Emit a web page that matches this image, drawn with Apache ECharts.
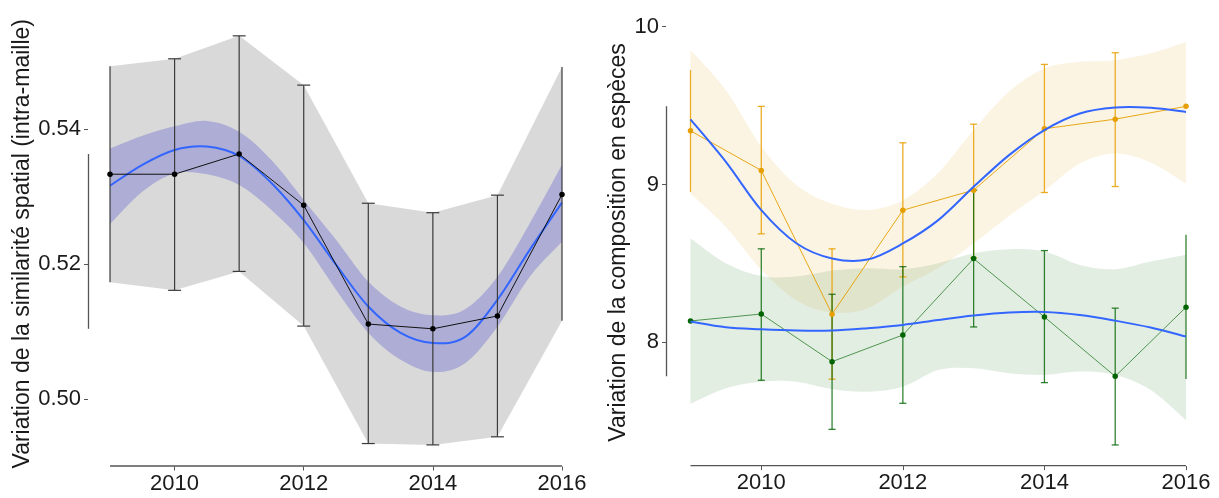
<!DOCTYPE html>
<html>
<head>
<meta charset="utf-8">
<script src="https://cdn.jsdelivr.net/npm/echarts@6/dist/echarts.min.js"></script>
<style>
html,body{margin:0;padding:0;background:#fff;}
#chart{width:1219px;height:498px;}
</style>
</head>
<body>
<div id="chart"></div>
<script>
// ---------- DATA ----------
const years = [2009, 2010, 2011, 2012, 2013, 2014, 2015, 2016];
const xTicks = [2010, 2012, 2014, 2016];

// Left panel: similarity
const simMean  = [0.5333, 0.5333, 0.5363, 0.5287, 0.5111, 0.5104, 0.5123, 0.5303];
const simUpper = [0.5493, 0.5504, 0.5538, 0.5465, 0.5290, 0.5276, 0.5302, 0.5492];
const simLower = [0.5173, 0.5161, 0.5189, 0.5108, 0.4934, 0.4932, 0.4944, 0.5116];
const simTicks = [0.50, 0.52, 0.54];

const fitYears = [2009, 2009.5, 2010, 2010.5, 2011, 2011.5, 2012, 2012.5, 2013, 2013.5, 2014, 2014.5, 2015, 2015.5, 2016];
const simFit      = [0.5316, 0.5347, 0.5369, 0.5374, 0.5360, 0.5320, 0.5265, 0.5199, 0.5137, 0.5098, 0.5083, 0.5092, 0.5147, 0.5221, 0.5291];
const simFitUpper = [0.5371, 0.5390, 0.5404, 0.5412, 0.5396, 0.5354, 0.5295, 0.5236, 0.5174, 0.5137, 0.5124, 0.5133, 0.5181, 0.5260, 0.5347];
const simFitLower = [0.5259, 0.5307, 0.5334, 0.5333, 0.5317, 0.5280, 0.5231, 0.5162, 0.5098, 0.5058, 0.5040, 0.5053, 0.5107, 0.5181, 0.5233];

// Right panel: species composition
const orangeMean  = [9.340, 9.089, 8.178, 8.837, 8.964, 9.353, 9.414, 9.495];
const orangeUpper = [9.725, 9.495, 8.592, 9.264, 9.382, 9.761, 9.835, null];
const orangeLower = [8.953, 8.687, 7.766, 8.414, 8.535, 8.949, 8.987, null];
const greenMean   = [8.135, 8.179, 7.877, 8.046, 8.530, 8.160, 7.784, 8.222];
const greenUpper  = [null, 8.592, 8.304, 8.479, 8.964, 8.581, 8.216, 8.682];
const greenLower  = [null, 7.759, 7.448, 7.613, 8.097, 7.744, 7.349, 7.767];
const compTicks = [8, 9, 10];

const orangeFit      = [9.412, 9.143, 8.837, 8.626, 8.531, 8.524, 8.626, 8.774, 8.985, 9.186, 9.345, 9.450, 9.488, 9.486, 9.460];
const orangeFitUpper = [9.852, 9.598, 9.240, 8.995, 8.877, 8.838, 8.900, 9.075, 9.345, 9.590, 9.735, 9.777, 9.788, 9.831, 9.905];
const orangeFitLower = [8.943, 8.731, 8.460, 8.265, 8.188, 8.214, 8.353, 8.470, 8.626, 8.800, 8.960, 9.133, 9.197, 9.140, 9.006];
const greenFit      = [8.131, 8.095, 8.082, 8.074, 8.074, 8.089, 8.110, 8.141, 8.169, 8.188, 8.192, 8.173, 8.137, 8.093, 8.036];
const greenFitUpper = [8.659, 8.501, 8.420, 8.416, 8.454, 8.469, 8.463, 8.501, 8.564, 8.590, 8.575, 8.490, 8.463, 8.511, 8.554];
const greenFitLower = [7.609, 7.708, 7.750, 7.750, 7.702, 7.687, 7.718, 7.824, 7.835, 7.803, 7.793, 7.814, 7.793, 7.698, 7.507];

const leftTitle = 'Variation de la similarité spatial (intra-maille)';
const rightTitle = 'Variation de la composition en espèces';

// ---------- HELPERS ----------
const FONT = "'Liberation Sans', Arial, sans-serif";
const TXT = '#1a1a1a';

function smoothSeg(pts, start) {
  let d = (start ? 'M' : 'L') + pts[0][0] + ',' + pts[0][1];
  for (let i = 0; i < pts.length - 1; i++) {
    const p0 = pts[i - 1] || pts[i], p1 = pts[i], p2 = pts[i + 1], p3 = pts[i + 2] || pts[i + 1];
    const c1 = [p1[0] + (p2[0] - p0[0]) / 6, p1[1] + (p2[1] - p0[1]) / 6];
    const c2 = [p2[0] - (p3[0] - p1[0]) / 6, p2[1] - (p3[1] - p1[1]) / 6];
    d += ' C' + c1[0] + ',' + c1[1] + ' ' + c2[0] + ',' + c2[1] + ' ' + p2[0] + ',' + p2[1];
  }
  return d;
}

function ribbonSeries(ax, xs, lo, hi, color, z) {
  return {
    type: 'custom', xAxisIndex: ax, yAxisIndex: ax, z: z, silent: true,
    data: xs.map((x, i) => [x, lo[i], hi[i]]),
    encode: { x: 0, y: [1, 2] },
    renderItem: function (params, api) {
      if (params.dataIndex !== 0) return null;
      const pts = [];
      xs.forEach((x, i) => pts.push(api.coord([x, hi[i]])));
      for (let i = xs.length - 1; i >= 0; i--) pts.push(api.coord([xs[i], lo[i]]));
      return { type: 'polygon', shape: { points: pts }, style: { fill: color } };
    }
  };
}

function bandSeries(ax, xs, lo, hi, color, z) {
  return {
    type: 'custom', xAxisIndex: ax, yAxisIndex: ax, z: z, silent: true,
    data: xs.map((x, i) => [x, lo[i], hi[i]]),
    encode: { x: 0, y: [1, 2] },
    renderItem: function (params, api) {
      if (params.dataIndex !== 0) return null;
      const up = xs.map((x, i) => api.coord([x, hi[i]]));
      const dn = xs.map((x, i) => api.coord([x, lo[i]])).reverse();
      const d = smoothSeg(up, true) + ' ' + smoothSeg(dn, false) + ' Z';
      return { type: 'path', shape: { pathData: d }, style: { fill: color } };
    }
  };
}

function curveSeries(ax, xs, ys, color, z) {
  return {
    type: 'custom', xAxisIndex: ax, yAxisIndex: ax, z: z, silent: true,
    data: xs.map((x, i) => [x, ys[i]]),
    encode: { x: 0, y: 1 },
    renderItem: function (params, api) {
      if (params.dataIndex !== 0) return null;
      const pts = xs.map((x, i) => api.coord([x, ys[i]]));
      return { type: 'path', shape: { pathData: smoothSeg(pts, true) },
               style: { fill: 'none', stroke: color, lineWidth: 2 } };
    }
  };
}

function errorSeries(ax, xs, lo, hi, color, capHalf, width, z) {
  const data = [];
  xs.forEach((x, i) => { if (lo[i] != null && hi[i] != null) data.push([x, lo[i], hi[i]]); });
  const xmin = Math.min.apply(null, xs), xmax = Math.max.apply(null, xs);
  return {
    type: 'custom', xAxisIndex: ax, yAxisIndex: ax, z: z, silent: true,
    data: data, encode: { x: 0, y: [1, 2] },
    renderItem: function (params, api) {
      const x = api.value(0);
      const a = api.coord([x, api.value(1)]), b = api.coord([x, api.value(2)]);
      const st = { stroke: color, lineWidth: width };
      const ch = [{ type: 'line', shape: { x1: a[0], y1: a[1], x2: b[0], y2: b[1] }, style: st }];
      if (x - capHalf >= xmin && x + capHalf <= xmax) {
        const l1 = api.coord([x - capHalf, api.value(1)]), r1 = api.coord([x + capHalf, api.value(1)]);
        const l2 = api.coord([x - capHalf, api.value(2)]), r2 = api.coord([x + capHalf, api.value(2)]);
        ch.push({ type: 'line', shape: { x1: l1[0], y1: l1[1], x2: r1[0], y2: r1[1] }, style: st });
        ch.push({ type: 'line', shape: { x1: l2[0], y1: l2[1], x2: r2[0], y2: r2[1] }, style: st });
      }
      return { type: 'group', children: ch };
    }
  };
}

function pointLineSeries(ax, xs, ys, color, lineColor, z) {
  return {
    type: 'line', xAxisIndex: ax, yAxisIndex: ax, z: z, silent: true,
    data: xs.map((x, i) => [x, ys[i]]),
    symbol: 'circle', symbolSize: 5.5, showSymbol: true,
    itemStyle: { color: color },
    lineStyle: { color: lineColor, width: 1 },
    animation: false
  };
}

// Tufte-style range frame: axis lines span only the data range
function frameSeries(ax, xs, yVals, yAxisMin, xAxisMin, color) {
  const ys = yVals.filter(v => v != null);
  const ymin = Math.min.apply(null, ys), ymax = Math.max.apply(null, ys);
  const xmin = Math.min.apply(null, xs), xmax = Math.max.apply(null, xs);
  return {
    type: 'custom', xAxisIndex: ax, yAxisIndex: ax, z: 1, silent: true,
    data: [[xmin, ymin]], encode: { x: 0, y: 1 },
    renderItem: function (params, api) {
      const a = api.coord([xAxisMin, ymin]), b = api.coord([xAxisMin, ymax]);
      const c = api.coord([xmin, yAxisMin]), d = api.coord([xmax, yAxisMin]);
      const st = { stroke: color, lineWidth: 1.3 };
      return { type: 'group', children: [
        { type: 'line', shape: { x1: a[0] + 0.5, y1: a[1], x2: b[0] + 0.5, y2: b[1] }, style: st },
        { type: 'line', shape: { x1: c[0], y1: c[1] - 0.5, x2: d[0], y2: d[1] - 0.5 }, style: st }
      ] };
    }
  };
}

// ---------- AXES ----------
const L_XMIN = 2008.659, R_XMIN = 2008.654;
const L_YMIN = 0.49, L_YMAX = 0.556;
const R_YMIN = 7.215, R_YMAX = 10.05;

function xAxisDef(grid, min) {
  return {
    type: 'value', gridIndex: grid, min: min, max: 2016,
    axisLine: { show: false }, splitLine: { show: false },
    axisTick: { show: true, customValues: xTicks, length: 4, lineStyle: { color: '#555', width: 1 } },
    axisLabel: { customValues: xTicks, color: TXT, fontSize: 22, fontFamily: FONT, margin: 6,
                 formatter: v => String(Math.round(v)) }
  };
}
function yAxisDef(grid, min, max, ticks, dec, name, gap) {
  return {
    type: 'value', gridIndex: grid, min: min, max: max,
    axisLine: { show: false }, splitLine: { show: false },
    axisTick: { show: true, customValues: ticks, length: 4, lineStyle: { color: '#555', width: 1 } },
    axisLabel: { customValues: ticks, color: TXT, fontSize: 22, fontFamily: FONT, margin: 7,
                 formatter: v => Number(v).toFixed(dec) },
    name: name, nameLocation: 'middle', nameRotate: 90, nameGap: gap,
    nameTextStyle: { color: TXT, fontSize: 23, fontFamily: FONT }
  };
}

const option = {
  animation: false,
  backgroundColor: '#ffffff',
  grid: [
    { left: 88, top: 21, width: 474, height: 445.5 },
    { left: 666, top: 18.8, width: 520, height: 447.3 }
  ],
  xAxis: [xAxisDef(0, L_XMIN), xAxisDef(1, R_XMIN)],
  yAxis: [
    yAxisDef(0, L_YMIN, L_YMAX, simTicks, 2, leftTitle, 52),
    yAxisDef(1, R_YMIN, R_YMAX, compTicks, 0, rightTitle, 30)
  ],
  series: [
    // left panel
    ribbonSeries(0, years, simLower, simUpper, '#d9d9d9', 2),
    bandSeries(0, fitYears, simFitLower, simFitUpper, '#adadd6', 3),
    curveSeries(0, fitYears, simFit, '#3366ff', 4),
    errorSeries(0, years, simLower, simUpper, '#3a3a3a', 0.1, 1.2, 5),
    pointLineSeries(0, years, simMean, '#000000', '#111111', 6),
    frameSeries(0, years, simMean, L_YMIN, L_XMIN, '#555555'),
    // right panel
    bandSeries(1, fitYears, orangeFitLower, orangeFitUpper, 'rgba(230,159,0,0.11)', 2),
    bandSeries(1, fitYears, greenFitLower, greenFitUpper, 'rgba(0,100,0,0.11)', 2),
    errorSeries(1, years, orangeLower, orangeUpper, 'rgba(230,159,0,0.85)', 0.05, 1.3, 4),
    errorSeries(1, years, greenLower, greenUpper, 'rgba(0,100,0,0.8)', 0.05, 1.3, 4),
    pointLineSeries(1, years, orangeMean, '#e69f00', 'rgba(230,159,0,0.9)', 5),
    pointLineSeries(1, years, greenMean, '#006400', 'rgba(0,100,0,0.65)', 5),
    curveSeries(1, fitYears, orangeFit, '#3366ff', 7),
    curveSeries(1, fitYears, greenFit, '#3366ff', 7),
    frameSeries(1, years, orangeMean.concat(greenMean), R_YMIN, R_XMIN, '#555555')
  ]
};

const chart = echarts.init(document.getElementById('chart'), null, { renderer: 'canvas' });
chart.setOption(option);
</script>
</body>
</html>
